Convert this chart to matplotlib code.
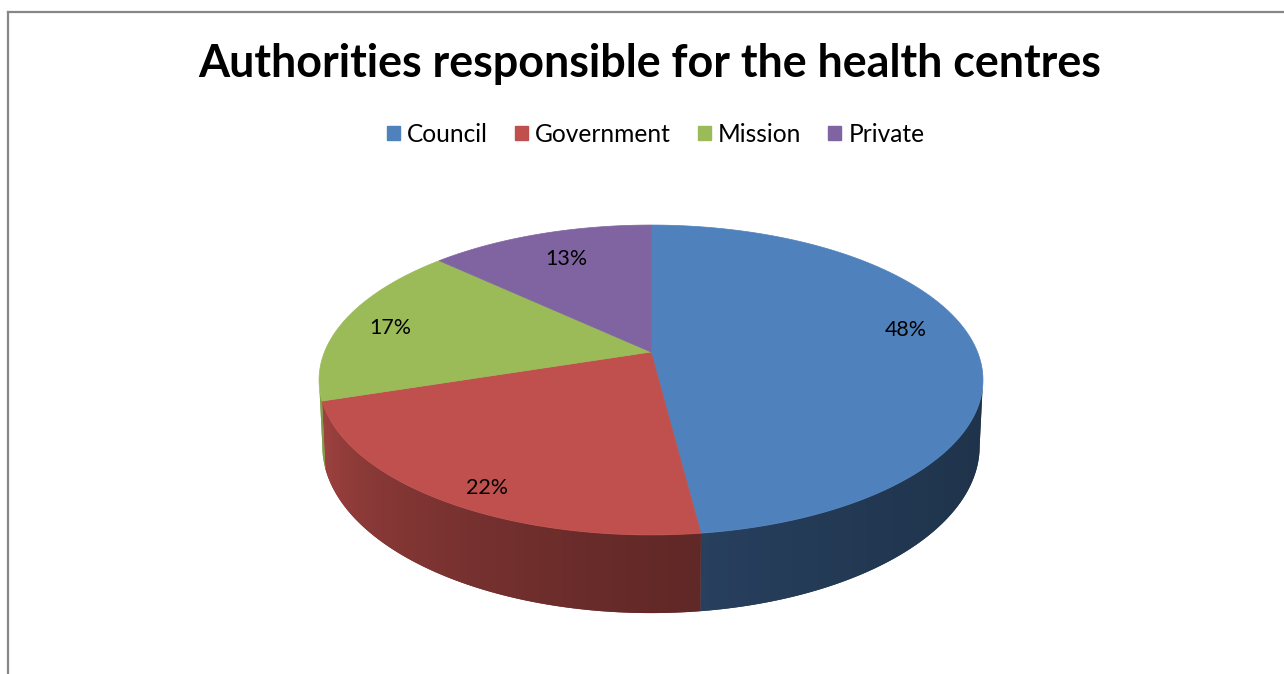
import numpy as np
import matplotlib
matplotlib.use("Agg")
import matplotlib.pyplot as plt
from matplotlib.patches import Polygon, Patch
import matplotlib.colors as mcolors

# ---------------- data ----------------
title = "Authorities responsible for the health centres"
categories = ["Council", "Government", "Mission", "Private"]
shares = [48, 22, 17, 13]
colors = ["#4F81BD", "#C0504D", "#9BBB59", "#8064A2"]

# ---------------- figure ----------------
W, H = 1284, 674
FONT = "Lato"
fig = plt.figure(figsize=(W / 100, H / 100), dpi=100)
fig.patch.set_facecolor("white")
ax = fig.add_axes([0, 0, 1, 1])
ax.set_xlim(0, W)
ax.set_ylim(H, 0)
ax.axis("off")

fig.canvas.draw()
renderer = fig.canvas.get_renderer()


def fit_size(s, target_w, **kw):
    t = fig.text(0, 0, s, fontsize=20, **kw)
    w = t.get_window_extent(renderer).width
    t.remove()
    return 20 * target_w / w


# perspective projection of a unit disk
X0, Y0 = 651.0, 352.0
A, S, K = 326.5, 149.9, 0.1807
DEPTH = 64.0


def proj(u, v):
    den = 1 - K * v
    return X0 + A * u / den, Y0 + S * v / den


def top_pt(phi, r=1.0):
    p = np.radians(phi)
    return proj(r * np.sin(p), -r * np.cos(p))


def bottom_pt(phi):
    x, y = top_pt(phi)
    v = -np.cos(np.radians(phi))
    return X0 + (x - X0) * 0.99, y + DEPTH / (1 - K * v)


phi_sil_r = np.degrees(np.arccos(-K))
phi_sil_l = 360 - phi_sil_r


def shade(phi):
    t = np.clip((phi - phi_sil_r) / (phi_sil_l - phi_sil_r), 0, 1)
    return 0.40 + 0.48 * t ** 2


total = float(sum(shares))
bounds = np.concatenate([[0], np.cumsum(shares) / total * 360])

# mapping x -> angle on the visible front arc
front_phi = np.linspace(phi_sil_r, phi_sil_l, 2000)
front_x = np.array([top_pt(p)[0] for p in front_phi])

# sides (gradient images clipped to each side polygon)
for i, c in enumerate(colors):
    a0, a1 = bounds[i], bounds[i + 1]
    s0, s1 = max(a0, phi_sil_r), min(a1, phi_sil_l)
    if s1 <= s0:
        continue
    angs = np.linspace(s0, s1, 200)
    top = [top_pt(a) for a in angs]
    bot = [bottom_pt(a) for a in angs[::-1]]
    pts = np.array(top + bot)
    rgb = np.array(mcolors.to_rgb(c))
    poly = Polygon(pts, closed=True, facecolor=rgb * shade((s0 + s1) / 2),
                   edgecolor="none", zorder=2)
    ax.add_patch(poly)
    xmin, xmax = pts[:, 0].min() - 2, pts[:, 0].max() + 2
    ymin, ymax = pts[:, 1].min() - 2, pts[:, 1].max() + 2
    xs = np.linspace(xmin, xmax, 600)
    ph = np.interp(xs, front_x[::-1], front_phi[::-1])
    ph = np.clip(ph, s0, s1)
    img = (rgb[None, :] * shade(ph)[:, None])[None, :, :]
    im = ax.imshow(img, extent=[xmin, xmax, ymax, ymin], aspect="auto",
                   interpolation="bilinear", zorder=2.5)
    im.set_clip_path(poly)

ax.set_xlim(0, W)
ax.set_ylim(H, 0)

# top faces
for i, c in enumerate(colors):
    a0, a1 = bounds[i], bounds[i + 1]
    angs = np.linspace(a0, a1, max(3, int(a1 - a0) * 2))
    pts = [(X0, Y0)] + [top_pt(a) for a in angs]
    ax.add_patch(Polygon(pts, closed=True, facecolor=c, edgecolor=c,
                         linewidth=0.5, zorder=3))

# labels
lab_r = [0.79, 0.82, 0.845, 0.73]
lab_dy = [-15, 17, 3, -3]
lab_fs = fit_size("48%", 42, family=FONT)
for i, v in enumerate(shares):
    mid = (bounds[i] + bounds[i + 1]) / 2
    x, y = top_pt(mid, lab_r[i])
    ax.text(x, y + lab_dy[i], f"{v}%", ha="center", va="center",
            fontsize=lab_fs, family=FONT, color="black", zorder=5)

# title
title_fs = fit_size(title, 906, family=FONT, weight="bold")
fig.text(650 / W, 1 - 64 / H, title, ha="center", va="center",
         fontsize=title_fs, family=FONT, weight="bold", color="black")

# legend
leg_fs = fit_size("Government", 136, family=FONT)
fs_px = leg_fs * 100 / 72
handles = [Patch(facecolor=c, edgecolor=c) for c in colors]
fig.legend(handles, categories, ncol=4, loc="center",
           bbox_to_anchor=(656 / W, 1 - 134 / H), frameon=False,
           prop={"family": FONT, "size": leg_fs},
           handlelength=13 / fs_px, handleheight=13 / fs_px,
           handletextpad=7 / fs_px, columnspacing=27 / fs_px,
           borderpad=0, borderaxespad=0)

# chart frame (partially visible)
ax.plot([8, 8], [H, 12], color="#878787", lw=1.6, clip_on=False, zorder=1)
ax.plot([8, W], [12, 12], color="#878787", lw=1.6, clip_on=False, zorder=1)

fig.savefig("out.png", dpi=100, facecolor="white")
